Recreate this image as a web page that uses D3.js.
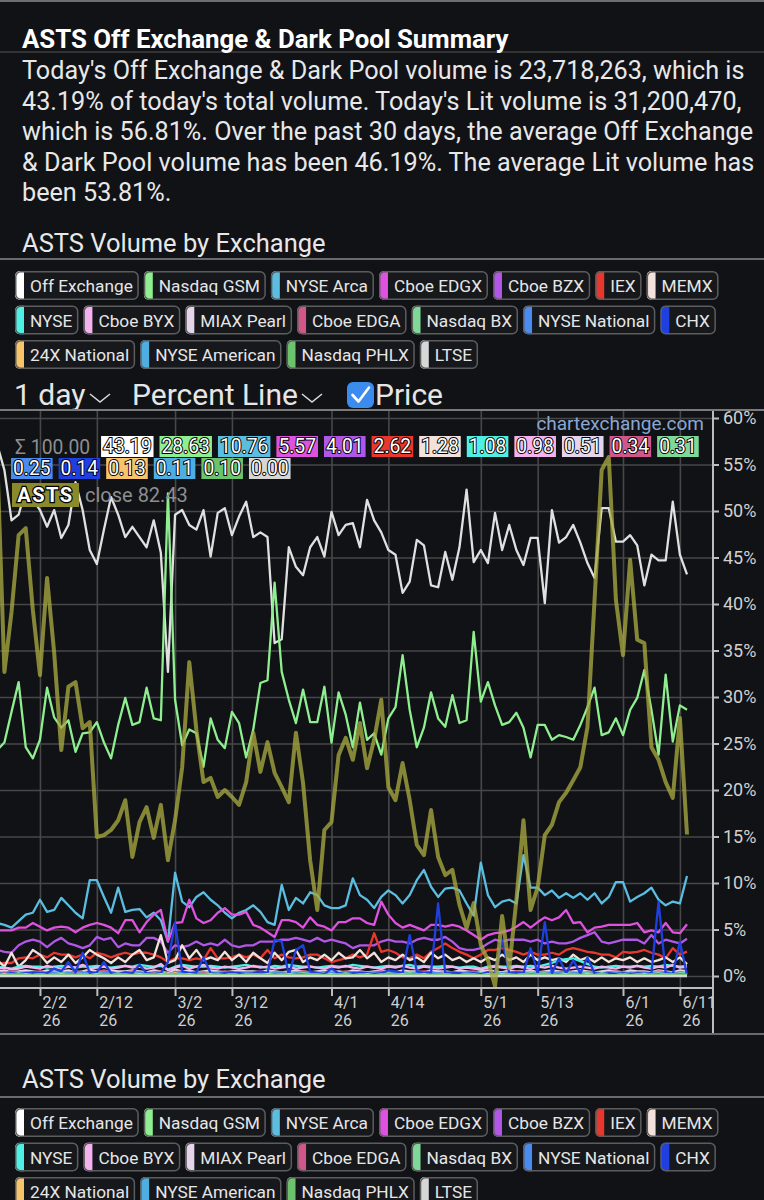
<!DOCTYPE html>
<html>
<head>
<meta charset="utf-8">
<script src="https://d3js.org/d3.v7.min.js"></script>
<style>
  body { margin: 0; background: #101216; }
  svg { display: block; font-family: Roboto, "Noto Sans", sans-serif; }
</style>
</head>
<body>
<svg id="page" width="764" height="1200"></svg>
<script>
// ---- data ----
const title = "ASTS Off Exchange & Dark Pool Summary";
const summaryLines = [
  "Today's Off Exchange & Dark Pool volume is 23,718,263, which is",
  "43.19% of today's total volume. Today's Lit volume is 31,200,470,",
  "which is 56.81%. Over the past 30 days, the average Off Exchange",
  "& Dark Pool volume has been 46.19%. The average Lit volume has",
  "been 53.81%."
];
const sumLabel = "Σ 100.00";

const dates = ("1/23 1/26 1/27 1/28 1/29 1/30 2/2 2/3 2/4 2/5 2/6 2/9 2/10 2/11 2/12 2/13 2/17 2/18 2/19 2/20 " +
  "2/23 2/24 2/25 2/26 2/27 3/2 3/3 3/4 3/5 3/6 3/9 3/10 3/11 3/12 3/13 3/16 3/17 3/18 3/19 3/20 " +
  "3/23 3/24 3/25 3/26 3/27 3/30 3/31 4/1 4/2 4/6 4/7 4/8 4/9 4/10 4/13 4/14 4/15 4/16 4/17 4/20 " +
  "4/21 4/22 4/23 4/24 4/27 4/28 4/29 4/30 5/1 5/4 5/5 5/6 5/7 5/8 5/11 5/12 5/13 5/14 5/15 5/18 " +
  "5/19 5/20 5/21 5/22 5/26 5/27 5/28 5/29 6/1 6/2 6/3 6/4 6/5 6/8 6/9 6/10 6/11 6/12").split(" ");
const tickDates = ["2/2", "2/12", "3/2", "3/12", "4/1", "4/14", "5/1", "5/13", "6/1", "6/11"];
const yearLabel = "26";
const pctTicks = [0, 5, 10, 15, 20, 25, 30, 35, 40, 45, 50, 55, 60];

const exchanges = ["Off Exchange", "Nasdaq GSM", "NYSE Arca", "Cboe EDGX", "Cboe BZX", "IEX", "MEMX",
  "NYSE", "Cboe BYX", "MIAX Pearl", "Cboe EDGA", "Nasdaq BX", "NYSE National", "CHX",
  "24X National", "NYSE American", "Nasdaq PHLX", "LTSE"];
const colors = ["#ffffff", "#8fee8f", "#5bbde0", "#df52df", "#b057e6", "#e8382e", "#f3e1dc",
  "#4ff0e4", "#f4b2ef", "#e6d5ea", "#d1568a", "#7fd898", "#4a8bf0", "#1f3fe0",
  "#f7c46c", "#4eaee2", "#6cc36c", "#d6d6d6"];
const legendRows = [[0, 1, 2, 3, 4, 5, 6], [7, 8, 9, 10, 11, 12, 13], [14, 15, 16, 17]];

const offExchange = [
  57.1, 54.4, 49.0, 49.6, 52.3, 51.2, 50.1, 48.3, 50.1, 47.1,
  48.5, 53.1, 50.1, 45.8, 44.3, 48.0, 51.5, 49.6, 47.2, 48.3,
  47.2, 46.1, 49.0, 45.5, 32.7, 49.6, 50.1, 48.5, 48.0, 50.1,
  45.1, 49.8, 50.3, 47.4, 49.4, 51.0, 47.2, 47.7, 47.2, 35.8,
  36.2, 46.1, 44.0, 43.1, 46.1, 47.2, 45.1, 49.9, 47.4, 48.5,
  48.7, 46.1, 51.2, 49.0, 47.7, 45.8, 45.3, 41.2, 42.4, 46.9,
  46.3, 42.0, 41.8, 45.6, 42.6, 46.1, 52.3, 44.5, 45.8, 44.4,
  49.8, 45.8, 48.5, 45.8, 44.2, 47.1, 47.1, 40.1, 50.1, 46.6,
  47.2, 48.5, 46.6, 44.4, 42.8, 50.3, 50.3, 46.7, 46.7, 47.4,
  46.3, 42.0, 45.3, 44.7, 44.7, 51.0, 45.3, 43.19];
const nasdaqGsm = [
  24.3, 25.1, 28.4, 31.6, 24.6, 23.4, 25.4, 31.0, 27.8, 26.7,
  27.5, 24.1, 26.1, 26.2, 27.3, 25.1, 23.4, 27.0, 29.9, 27.0,
  27.3, 31.0, 27.7, 27.5, 51.9, 29.7, 24.8, 26.5, 26.1, 22.5,
  27.7, 25.4, 24.5, 28.4, 27.2, 23.5, 26.5, 31.5, 31.8, 42.3,
  32.7, 29.7, 27.2, 30.8, 27.3, 27.3, 31.1, 25.1, 30.5, 28.1,
  24.6, 29.4, 25.4, 26.1, 23.8, 27.7, 28.9, 34.5, 28.6, 24.6,
  26.7, 30.5, 27.7, 26.8, 30.2, 27.2, 27.5, 37.0, 29.5, 31.6,
  29.1, 27.0, 27.3, 28.3, 26.7, 23.5, 27.0, 27.0, 25.4, 25.9,
  25.7, 25.4, 27.0, 28.9, 31.0, 25.9, 26.2, 27.7, 25.9, 28.6,
  29.9, 32.9, 28.6, 23.8, 32.4, 25.2, 29.1, 28.63];
const nyseArca = [
  5.7, 5.5, 5.2, 5.9, 6.6, 6.8, 8.2, 6.9, 7.1, 8.4,
  7.6, 6.8, 6.2, 10.3, 10.3, 8.5, 6.8, 9.5, 6.9, 7.1,
  7.2, 6.3, 6.8, 6.0, 3.7, 11.1, 8.0, 7.4, 8.5, 9.0,
  8.2, 7.6, 6.8, 6.2, 6.8, 7.1, 7.6, 6.9, 5.8, 5.5,
  9.8, 7.1, 8.4, 7.8, 9.0, 8.7, 7.6, 7.3, 7.3, 7.6,
  10.5, 8.7, 8.2, 7.3, 8.5, 9.2, 8.7, 7.8, 8.7, 10.3,
  11.4, 9.6, 8.5, 9.4, 9.5, 9.2, 7.8, 6.5, 12.2, 8.7,
  7.4, 8.0, 8.2, 7.8, 13.0, 9.5, 9.5, 8.7, 9.2, 8.4,
  8.9, 8.4, 8.9, 8.2, 8.9, 7.8, 8.5, 10.1, 10.1, 8.0,
  8.5, 8.9, 9.5, 8.2, 7.6, 8.0, 7.8, 10.76];
const cboeEdgx = [
  4.9, 4.9, 4.9, 5.2, 5.2, 5.7, 5.3, 4.9, 5.2, 5.3,
  5.2, 4.7, 5.2, 5.5, 5.7, 5.5, 5.2, 4.6, 6.0, 6.0,
  4.7, 5.8, 6.6, 7.1, 3.7, 5.7, 5.8, 8.2, 6.2, 5.7,
  6.0, 6.8, 7.3, 6.6, 6.6, 6.9, 5.5, 5.2, 4.7, 4.2,
  6.0, 6.0, 5.8, 5.2, 6.3, 5.5, 5.3, 4.9, 5.8, 5.8,
  6.2, 6.2, 5.7, 5.5, 8.0, 6.6, 5.7, 5.2, 5.5, 5.2,
  4.9, 5.5, 5.5, 5.3, 5.5, 5.3, 4.9, 4.4, 3.9, 4.4,
  4.6, 4.7, 4.9, 5.3, 5.8, 5.2, 5.8, 6.3, 6.0, 6.3,
  7.1, 5.7, 5.8, 4.7, 5.2, 5.3, 5.5, 5.5, 5.5, 5.5,
  5.7, 4.7, 4.9, 4.7, 5.7, 4.7, 4.6, 5.57];
const cboeBzx = [
  2.8, 2.6, 2.5, 3.3, 3.7, 3.9, 3.7, 3.1, 3.7, 4.1,
  3.5, 3.3, 3.0, 3.3, 4.2, 3.9, 4.1, 3.1, 3.5, 3.3,
  3.3, 4.1, 4.1, 3.7, 2.5, 3.3, 3.1, 3.3, 3.7, 3.3,
  3.5, 3.3, 3.9, 3.3, 3.1, 3.3, 3.3, 3.7, 3.7, 3.7,
  3.9, 3.9, 4.1, 3.9, 3.7, 4.1, 3.7, 3.9, 3.7, 3.5,
  3.0, 3.3, 3.3, 3.3, 3.7, 3.9, 3.7, 3.7, 3.5, 3.9,
  4.1, 3.9, 3.9, 4.2, 3.7, 3.0, 2.8, 2.8, 3.0, 3.5,
  3.9, 3.7, 3.9, 3.9, 3.9, 3.7, 3.9, 3.5, 3.7, 3.5,
  3.5, 3.7, 4.1, 4.4, 4.7, 3.7, 3.5, 3.7, 3.9, 3.9,
  3.9, 3.5, 4.4, 3.5, 3.9, 3.7, 3.5, 4.01];
const iex = [
  1.3, 1.4, 1.4, 1.9, 2.0, 1.9, 2.3, 2.0, 2.5, 2.3,
  2.3, 2.0, 2.3, 1.9, 2.5, 2.3, 2.0, 2.3, 2.5, 2.3,
  2.5, 2.5, 2.3, 2.0, 1.5, 1.9, 1.9, 1.7, 1.9, 1.7,
  3.0, 1.9, 1.9, 2.0, 2.3, 2.0, 2.3, 1.9, 2.8, 1.9,
  2.3, 2.0, 1.9, 2.0, 2.3, 2.3, 1.9, 1.5, 1.7, 1.9,
  2.3, 2.0, 2.3, 4.6, 2.6, 2.8, 2.5, 2.0, 1.9, 2.3,
  1.9, 2.6, 3.0, 3.5, 3.0, 2.6, 2.3, 1.9, 2.3, 2.8,
  2.8, 3.0, 2.8, 2.6, 2.3, 2.6, 2.3, 2.3, 2.5, 2.3,
  2.8, 3.0, 2.8, 2.6, 2.5, 2.3, 2.3, 2.0, 2.6, 2.5,
  2.6, 2.8, 2.5, 2.3, 1.9, 3.0, 2.3, 2.62];
const memx = [
  1.7, 1.0, 2.5, 1.0, 1.7, 2.8, 2.3, 1.4, 2.0, 1.5,
  2.3, 1.4, 2.0, 2.8, 2.3, 1.9, 1.4, 2.0, 1.5, 2.3,
  2.8, 1.7, 2.0, 4.4, 1.4, 1.7, 3.3, 1.9, 2.8, 1.7,
  2.0, 1.7, 2.6, 1.7, 2.3, 1.5, 2.5, 1.9, 1.4, 2.5,
  1.7, 2.6, 2.8, 1.5, 2.0, 1.7, 2.3, 1.7, 2.5, 1.9,
  2.0, 2.8, 1.9, 2.5, 1.5, 2.0, 1.7, 2.3, 1.7, 2.0,
  1.5, 2.5, 1.9, 2.3, 1.7, 2.0, 1.5, 1.9, 1.5, 2.0,
  1.7, 2.3, 1.7, 2.0, 1.5, 2.3, 1.7, 2.0, 1.7, 1.9,
  1.5, 2.3, 1.7, 2.0, 1.5, 2.0, 1.5, 1.9, 1.7, 2.0,
  1.5, 1.9, 1.5, 1.7, 2.0, 1.5, 2.0, 1.28];
const nyse = [
  1.0, 0.9, 0.8, 1.0, 1.1, 1.0, 1.0, 0.9, 1.0, 1.1,
  1.0, 0.9, 1.0, 1.0, 1.1, 1.0, 0.9, 1.0, 1.1, 1.0,
  1.2, 1.1, 1.0, 1.1, 0.7, 1.0, 1.2, 1.1, 1.0, 1.0,
  1.1, 1.0, 0.9, 1.0, 1.1, 1.2, 1.0, 1.0, 0.9, 1.1,
  1.0, 1.2, 1.1, 1.0, 1.0, 0.9, 1.0, 1.1, 1.0, 1.0,
  1.2, 1.1, 1.0, 0.9, 1.0, 1.1, 1.0, 1.1, 1.2, 1.0,
  1.1, 1.0, 1.0, 1.1, 1.0, 0.9, 1.0, 1.0, 0.8, 1.0,
  1.1, 1.0, 1.0, 1.1, 1.0, 1.1, 1.0, 1.2, 1.4, 1.7,
  1.8, 1.9, 1.6, 1.3, 1.0, 0.9, 1.0, 1.1, 1.0, 1.0,
  1.1, 1.0, 1.1, 1.0, 1.2, 1.1, 1.0, 1.08];
const cboeByx = [
  0.8, 0.9, 0.7, 0.8, 1.0, 0.9, 0.8, 1.1, 0.9, 0.8,
  1.0, 0.9, 1.2, 0.8, 0.9, 1.0, 0.8, 0.9, 1.1, 0.9,
  1.0, 0.8, 0.9, 1.3, 0.6, 0.9, 1.1, 0.8, 1.0, 1.2,
  0.9, 0.8, 1.0, 0.9, 0.8, 0.9, 1.1, 0.9, 1.0, 0.8,
  0.9, 1.0, 0.8, 0.9, 1.0, 0.9, 0.8, 1.0, 0.9, 1.1,
  0.9, 0.8, 1.0, 0.9, 0.8, 1.0, 0.9, 1.1, 0.9, 0.8,
  1.0, 0.9, 0.8, 0.9, 1.0, 0.8, 0.9, 0.8, 0.7, 0.9,
  1.0, 0.9, 0.8, 1.0, 0.9, 0.8, 1.0, 0.9, 1.1, 0.9,
  0.8, 0.9, 1.0, 0.9, 0.8, 1.0, 0.9, 0.8, 1.0, 0.9,
  1.1, 0.9, 0.8, 1.0, 0.9, 1.2, 0.9, 0.98];
const miaxPearl = [
  0.5, 0.6, 0.4, 0.5, 0.6, 0.5, 0.4, 0.6, 0.5, 0.5,
  0.6, 0.4, 0.5, 0.7, 0.5, 0.4, 0.6, 0.5, 0.5, 0.6,
  0.5, 0.4, 0.6, 0.5, 0.3, 0.7, 0.5, 0.6, 0.4, 0.5,
  0.6, 0.5, 0.4, 0.5, 0.6, 0.5, 0.5, 0.4, 0.6, 0.5,
  0.4, 0.5, 0.6, 0.5, 0.4, 0.5, 0.6, 0.5, 0.5, 0.4,
  0.6, 0.5, 0.4, 0.5, 0.6, 0.5, 0.4, 0.6, 0.5, 0.5,
  0.4, 0.6, 0.5, 0.5, 0.4, 0.6, 0.5, 0.4, 0.5, 0.6,
  0.5, 0.4, 0.6, 0.5, 0.5, 0.6, 0.4, 0.5, 0.6, 0.5,
  0.4, 0.5, 0.6, 0.5, 0.4, 0.5, 0.6, 0.5, 0.4, 0.6,
  0.5, 0.5, 0.4, 0.6, 0.5, 0.4, 0.6, 0.51];
const cboeEdga = [
  0.4, 0.3, 0.5, 0.4, 0.3, 0.4, 0.5, 0.3, 0.4, 0.4,
  0.3, 0.5, 0.4, 0.3, 0.4, 0.6, 0.4, 0.3, 0.4, 0.5,
  0.4, 0.3, 0.4, 0.5, 0.2, 0.4, 0.5, 0.3, 0.4, 0.4,
  0.3, 0.4, 0.5, 0.4, 0.3, 0.4, 0.4, 0.5, 0.3, 0.4,
  0.4, 0.3, 0.4, 0.5, 0.4, 0.3, 0.4, 0.4, 0.3, 0.5,
  0.4, 0.3, 0.4, 0.4, 0.5, 0.3, 0.4, 0.4, 0.3, 0.4,
  0.5, 0.4, 0.3, 0.4, 0.4, 0.3, 0.4, 0.5, 0.3, 0.4,
  0.4, 0.3, 0.4, 0.5, 0.4, 0.3, 0.4, 0.4, 0.3, 0.4,
  0.5, 0.4, 0.3, 0.4, 0.4, 0.3, 0.4, 0.5, 0.4, 0.3,
  0.4, 0.4, 0.3, 0.5, 0.4, 0.3, 0.4, 0.34];
const nasdaqBx = [
  0.3, 0.2, 0.3, 0.4, 0.3, 0.3, 0.2, 0.3, 0.4, 0.3,
  0.3, 0.2, 0.3, 0.3, 0.4, 0.3, 0.2, 0.3, 0.3, 0.4,
  0.3, 0.3, 0.2, 0.4, 0.2, 0.3, 0.3, 0.4, 0.3, 0.2,
  0.3, 0.4, 0.3, 0.3, 0.2, 0.3, 0.3, 0.4, 0.3, 0.3,
  0.2, 0.3, 0.4, 0.3, 0.3, 0.2, 0.3, 0.4, 0.3, 0.3,
  0.3, 0.2, 0.4, 0.3, 0.3, 0.3, 0.2, 0.3, 0.4, 0.3,
  0.3, 0.3, 0.2, 0.3, 0.4, 0.3, 0.3, 0.2, 0.3, 0.3,
  0.4, 0.3, 0.2, 0.3, 0.3, 0.4, 0.3, 0.3, 0.2, 0.3,
  0.3, 0.4, 0.3, 0.3, 0.2, 0.3, 0.3, 0.4, 0.3, 0.3,
  0.2, 0.3, 0.3, 0.4, 0.3, 0.2, 0.3, 0.31];
const nyseNational = [
  0.3, 0.2, 0.3, 0.2, 0.3, 0.3, 0.2, 0.4, 0.3, 0.2,
  0.3, 0.2, 0.3, 0.3, 0.2, 0.3, 0.4, 0.2, 0.3, 0.2,
  0.3, 0.3, 0.2, 0.3, 0.1, 0.4, 0.3, 0.2, 0.3, 0.2,
  0.2, 0.3, 0.3, 0.2, 0.4, 0.3, 0.2, 0.3, 0.2, 0.3,
  0.3, 0.2, 0.3, 0.2, 0.3, 0.4, 0.2, 0.3, 0.3, 0.2,
  0.3, 0.2, 0.2, 0.3, 0.3, 0.2, 0.4, 0.3, 0.2, 0.3,
  0.2, 0.3, 0.3, 0.2, 0.3, 0.2, 0.3, 0.4, 0.2, 0.3,
  0.2, 0.3, 0.2, 0.3, 0.3, 0.2, 0.3, 0.2, 0.4, 0.3,
  0.2, 0.3, 0.3, 0.2, 0.3, 0.2, 0.3, 0.3, 0.2, 0.3,
  0.2, 0.3, 0.3, 0.2, 0.4, 0.3, 0.2, 0.25];
const chx = [
  0.3, 0.2, 0.3, 0.2, 0.3, 0.4, 0.3, 0.3, 0.8, 0.5,
  1.5, 0.4, 2.5, 0.3, 0.4, 1.5, 0.3, 0.2, 0.4, 0.3,
  1.2, 0.3, 0.2, 0.3, 1.5, 5.7, 0.5, 0.3, 0.4, 2.0,
  0.3, 0.2, 0.3, 0.4, 0.3, 0.2, 0.3, 0.5, 0.3, 3.9,
  3.7, 0.1, 2.8, 3.3, 0.5, 0.3, 0.2, 0.8, 0.3, 0.2,
  0.3, 0.4, 0.3, 0.2, 0.3, 0.6, 0.5, 0.3, 4.4, 0.5,
  0.3, 0.4, 7.8, 0.3, 0.4, 0.3, 0.2, 0.3, 0.2, 0.4,
  0.3, 3.9, 0.3, 0.4, 0.3, 3.0, 0.3, 5.8, 0.3, 1.9,
  0.3, 1.7, 0.3, 2.0, 0.3, 0.2, 0.3, 0.2, 0.3, 0.2,
  0.3, 0.2, 0.3, 8.0, 0.3, 0.2, 3.7, 0.14];
const x24National = [
  0.1, 0.2, 0.1, 0.1, 0.2, 0.1, 0.2, 0.1, 0.1, 0.2,
  0.1, 0.1, 0.2, 0.1, 0.2, 0.1, 0.1, 0.2, 0.1, 0.1,
  0.2, 0.1, 0.1, 0.2, 0.1, 0.3, 0.1, 0.2, 0.1, 0.1,
  0.2, 0.1, 0.1, 0.2, 0.1, 0.1, 0.2, 0.1, 0.2, 0.1,
  0.1, 0.2, 0.1, 0.1, 0.2, 0.1, 0.1, 0.2, 0.1, 0.2,
  0.1, 0.1, 0.2, 0.1, 0.1, 0.2, 0.1, 0.2, 0.1, 0.1,
  0.2, 0.1, 0.1, 0.2, 0.1, 0.1, 0.2, 0.1, 0.1, 0.2,
  0.1, 0.2, 0.1, 0.1, 0.2, 0.1, 0.1, 0.2, 0.1, 0.1,
  0.2, 0.1, 0.1, 0.2, 0.1, 0.2, 0.1, 0.1, 0.2, 0.1,
  0.1, 0.2, 0.1, 0.1, 0.2, 0.1, 0.1, 0.13];
const nyseAmerican = [
  0.1, 0.1, 0.2, 0.1, 0.1, 0.1, 0.2, 0.1, 0.1, 0.1,
  0.2, 0.1, 0.1, 0.1, 0.1, 0.2, 0.1, 0.1, 0.2, 0.1,
  0.1, 0.1, 0.2, 0.1, 0.1, 0.2, 0.1, 0.1, 0.1, 0.2,
  0.1, 0.1, 0.1, 0.2, 0.1, 0.1, 0.2, 0.1, 0.1, 0.1,
  0.2, 0.1, 0.1, 0.1, 0.2, 0.1, 0.1, 0.1, 0.2, 0.1,
  0.1, 0.2, 0.1, 0.1, 0.1, 0.2, 0.1, 0.1, 0.1, 0.2,
  0.1, 0.1, 0.2, 0.1, 0.1, 0.1, 0.2, 0.1, 0.1, 0.1,
  0.2, 0.1, 0.1, 0.1, 0.2, 0.1, 0.1, 0.2, 0.1, 0.1,
  0.1, 0.2, 0.1, 0.1, 0.1, 0.2, 0.1, 0.1, 0.2, 0.1,
  0.1, 0.1, 0.2, 0.1, 0.1, 0.2, 0.1, 0.11];
const nasdaqPhlx = [
  0.1, 0.1, 0.1, 0.2, 0.1, 0.1, 0.1, 0.1, 0.2, 0.1,
  0.1, 0.1, 0.2, 0.1, 0.1, 0.1, 0.1, 0.2, 0.1, 0.1,
  0.1, 0.2, 0.1, 0.1, 0.1, 0.1, 0.2, 0.1, 0.1, 0.1,
  0.1, 0.2, 0.1, 0.1, 0.1, 0.2, 0.1, 0.1, 0.1, 0.1,
  0.2, 0.1, 0.1, 0.1, 0.1, 0.2, 0.1, 0.1, 0.1, 0.2,
  0.1, 0.1, 0.1, 0.1, 0.2, 0.1, 0.1, 0.1, 0.2, 0.1,
  0.1, 0.1, 0.1, 0.2, 0.1, 0.1, 0.1, 0.2, 0.1, 0.1,
  0.1, 0.1, 0.2, 0.1, 0.1, 0.1, 0.2, 0.1, 0.1, 0.1,
  0.1, 0.2, 0.1, 0.1, 0.1, 0.2, 0.1, 0.1, 0.1, 0.1,
  0.2, 0.1, 0.1, 0.1, 0.2, 0.1, 0.1, 0.10];
const ltse = [
  0, 0, 0, 0, 0, 0, 0, 0, 0, 0,
  0, 0, 0, 0, 0, 0, 0, 0, 0, 0,
  0, 0, 0, 0, 0, 0, 0, 0, 0, 0,
  0, 0, 0, 0, 0, 0, 0, 0, 0, 0,
  0, 0, 0, 0, 0, 0, 0, 0, 0, 0,
  0, 0, 0, 0, 0, 0, 0, 0, 0, 0,
  0, 0, 0, 0, 0, 0, 0, 0, 0, 0,
  0, 0, 0, 0, 0, 0, 0, 0, 0, 0,
  0, 0, 0, 0, 0, 0, 0, 0, 0, 0,
  0, 0, 0, 0, 0, 0, 0, 0];
// ASTS close price, $
const astsClose = [
  163.0, 117.4, 130.3, 146.8, 148.3, 130.7, 116.7, 137.6, 121.5, 100.6,
  114.2, 115.2, 105.3, 106.6, 81.9, 82.3, 83.4, 85.5, 89.8, 77.6,
  85.1, 88.3, 81.7, 88.8, 76.9, 85.5, 96.9, 119.5, 104.9, 93.7,
  94.6, 90.5, 92.0, 90.5, 88.8, 93.7, 104.3, 95.9, 102.3, 95.7,
  92.6, 89.4, 104.3, 93.5, 76.9, 66.2, 83.4, 85.1, 99.5, 103.2,
  98.5, 106.4, 96.7, 102.8, 111.4, 92.6, 89.8, 97.8, 89.8, 80.2,
  78.0, 87.7, 77.6, 73.7, 74.8, 67.3, 62.3, 67.7, 58.7, 55.4,
  49.8, 64.9, 53.7, 68.3, 85.5, 66.2, 71.1, 82.3, 84.5, 89.4,
  91.4, 94.1, 96.9, 105.5, 132.9, 160.8, 163.6, 132.9, 121.0, 141.5,
  124.3, 123.6, 101.2, 98.5, 93.7, 90.3, 107.5, 82.43];

const series = [offExchange, nasdaqGsm, nyseArca, cboeEdgx, cboeBzx, iex, memx, nyse, cboeByx,
  miaxPearl, cboeEdga, nasdaqBx, nyseNational, chx, x24National, nyseAmerican, nasdaqPhlx, ltse];

// ---- page ----
const W = 764;
const svg = d3.select("#page");
svg.append("rect").attr("width", W).attr("height", 1200).attr("fill", "#101216");

function hline(yy, color, width) {
  svg.append("line").attr("x1", 0).attr("x2", W).attr("y1", yy).attr("y2", yy)
    .attr("stroke", color).attr("stroke-width", width);
}

hline(1, "#6e6e6e", 2);
hline(52, "#3f3f3f", 1.5);
svg.append("text").attr("x", 22).attr("y", 48)
  .attr("fill", "#ffffff").attr("font-size", 25.8).attr("font-weight", "bold").text(title);
svg.selectAll("text.summary").data(summaryLines).join("text")
  .attr("class", "summary")
  .attr("x", 22).attr("y", (d, i) => 79 + i * 30.5)
  .attr("fill", "#e8e8e8").attr("font-size", 25.2).text(d => d);

function drawLegend(titleY, lineY, rowTop, key) {
  svg.append("text").attr("x", 22).attr("y", titleY)
    .attr("fill", "#e8e8e8").attr("font-size", 25.5).text("ASTS Volume by Exchange");
  hline(lineY, "#6a6a6a", 2);
  legendRows.forEach((row, r) => {
    let cx = 15;
    row.forEach(i => {
      const g = svg.append("g").attr("transform", `translate(${cx},${rowTop + r * 34.5})`);
      const label = g.append("text").attr("x", 15).attr("y", 21)
        .attr("fill", "#e6e6e6").attr("font-size", 17.3).text(exchanges[i]);
      const w = label.node().getComputedTextLength() + 21;
      const id = `chip-${key}-${i}`;
      g.insert("clipPath", "text").attr("id", id)
        .append("rect").attr("width", w).attr("height", 29).attr("rx", 5);
      const inner = g.insert("g", "text").attr("clip-path", `url(#${id})`);
      inner.append("rect").attr("width", w).attr("height", 29).attr("fill", "#16181c");
      inner.append("rect").attr("width", 9).attr("height", 29).attr("fill", colors[i]);
      g.append("rect").attr("x", 0.75).attr("y", 0.75).attr("width", w - 1.5).attr("height", 27.5)
        .attr("rx", 5).attr("fill", "none").attr("stroke", "#5c5c5c").attr("stroke-width", 1.5);
      cx += w + 5;
    });
  });
}
drawLegend(252, 259, 271, "a");

// controls row
const ctrl = svg.append("g").attr("fill", "#e6e6e6").attr("font-size", 30);
ctrl.append("text").attr("x", 14).attr("y", 405).text("1 day");
ctrl.append("text").attr("x", 132).attr("y", 405).text("Percent Line");
ctrl.append("text").attr("x", 375).attr("y", 405).text("Price");
[[90, 110], [302, 322]].forEach(([a, b]) => {
  svg.append("path").attr("d", `M${a},394 L${(a + b) / 2},402 L${b},394`)
    .attr("fill", "none").attr("stroke", "#d8d8d8").attr("stroke-width", 1.6);
});
svg.append("rect").attr("x", 347).attr("y", 382).attr("width", 27).attr("height", 26).attr("rx", 6)
  .attr("fill", "#3c8cf0");
svg.append("path").attr("d", "M352.5,395 L358.5,401.5 L369,387.5")
  .attr("fill", "none").attr("stroke", "#ffffff").attr("stroke-width", 2.6)
  .attr("stroke-linecap", "round").attr("stroke-linejoin", "round");

// ---- chart ----
const chartTop = 410, plotRight = 713, xAxisY = 988, chartBottom = 1034;
const x = d3.scalePoint().domain(dates).range([-2.7, 687]);
const y = d3.scaleLinear().domain([0, 60]).range([976, 418]);
const yPrice = d3.scaleLinear().domain([52, 172]).range([976, 418]);

const chart = svg.append("g");
chart.append("clipPath").attr("id", "plot")
  .append("rect").attr("x", 0).attr("y", chartTop + 1).attr("width", plotRight).attr("height", xAxisY - chartTop - 1);

chart.append("g")
  .attr("transform", `translate(0,${xAxisY})`)
  .call(d3.axisBottom(x).tickValues(tickDates).tickSize(-(xAxisY - chartTop)).tickFormat(""))
  .call(g => g.select(".domain").remove())
  .selectAll("line").attr("stroke", "#474747").attr("stroke-width", 1.6);
chart.append("g")
  .call(d3.axisRight(y).tickValues(pctTicks).tickSize(plotRight).tickFormat(""))
  .call(g => g.select(".domain").remove())
  .selectAll("line").attr("stroke", "#474747").attr("stroke-width", 1.6);

const plot = chart.append("g").attr("clip-path", "url(#plot)");
const line = d3.line().x((d, i) => x(dates[i])).y(d => y(d));
plot.selectAll("path.ex").data(series).join("path")
  .attr("class", "ex")
  .attr("d", line)
  .attr("fill", "none")
  .attr("stroke", (d, i) => i === 0 ? "#e0e0e0" : colors[i])
  .attr("stroke-width", 2.3)
  .attr("stroke-linejoin", "round");
plot.append("path")
  .datum(astsClose)
  .attr("d", d3.line().x((d, i) => x(dates[i])).y(d => yPrice(d)))
  .attr("fill", "none").attr("stroke", "#a8a840").attr("stroke-opacity", 0.78)
  .attr("stroke-width", 4).attr("stroke-linejoin", "round");

// axes
chart.append("line").attr("x1", 0).attr("x2", plotRight).attr("y1", xAxisY).attr("y2", xAxisY)
  .attr("stroke", "#bdbdbd").attr("stroke-width", 2);
chart.append("line").attr("x1", plotRight).attr("x2", plotRight).attr("y1", chartTop).attr("y2", chartBottom)
  .attr("stroke", "#bdbdbd").attr("stroke-width", 2);

const xAxis = chart.append("g")
  .attr("transform", `translate(0,${xAxisY})`)
  .call(d3.axisBottom(x).tickValues(tickDates).tickSize(8).tickFormat(""))
  .attr("font-family", null).attr("font-size", null);
xAxis.select(".domain").remove();
xAxis.selectAll(".tick line").attr("stroke", "#bdbdbd").attr("stroke-width", 2);
const tickLabel = xAxis.selectAll(".tick").append("text")
  .attr("y", 20).attr("text-anchor", "start")
  .attr("fill", "#cfcfcf").attr("font-size", 16);
tickLabel.append("tspan").attr("x", 2).text(d => d);
tickLabel.append("tspan").attr("x", 2).attr("dy", 18).text(yearLabel);

const yAxis = chart.append("g")
  .attr("transform", `translate(${plotRight},0)`)
  .call(d3.axisRight(y).tickValues(pctTicks).tickSize(6).tickPadding(4).tickFormat(d => d + "%"))
  .attr("font-family", null).attr("font-size", 18).attr("color", "#d0d0d0");
yAxis.select(".domain").remove();
yAxis.selectAll(".tick line").attr("stroke", "#bdbdbd").attr("stroke-width", 2);

hline(chartBottom, "#6a6a6a", 2);
hline(chartTop, "#7a7a7a", 2);

// watermark
svg.append("text").attr("x", 704).attr("y", 430).attr("text-anchor", "end")
  .attr("fill", "#8aa7d3").attr("font-size", 19).text("chartexchange.com");

// latest-value badges
const fmt = d3.format(".2f");
function badge(bx, by, value, color) {
  const t = svg.append("text").attr("x", bx + 2).attr("y", by + 16.5).attr("font-size", 19.3)
    .attr("fill", "#ffffff").attr("stroke", "#000000").attr("stroke-width", 2)
    .attr("paint-order", "stroke").text(fmt(value));
  const w = t.node().getComputedTextLength() + 4;
  svg.insert("rect", () => t.node()).attr("x", bx).attr("y", by).attr("width", w).attr("height", 21)
    .attr("fill", color);
  return bx + w + 6;
}
const sigma = svg.append("text").attr("x", 15).attr("y", 453.5).attr("font-size", 19.3)
  .attr("fill", "#8e8e8e").text(sumLabel);
let bx = 15 + sigma.node().getComputedTextLength() + 11;
series.forEach((s, i) => {
  if (i === 12) bx = 11;
  bx = badge(bx, i < 12 ? 436 : 458, s[s.length - 1], colors[i]);
});

svg.append("rect").attr("x", 12).attr("y", 483).attr("width", 67).attr("height", 24).attr("fill", "#8a8a2c");
svg.append("text").attr("x", 45.5).attr("y", 502).attr("text-anchor", "middle")
  .attr("font-size", 20).attr("font-weight", "bold").attr("letter-spacing", 1.5)
  .attr("fill", "#ffffff").attr("stroke", "#000000").attr("stroke-width", 2.5).attr("paint-order", "stroke")
  .text("ASTS");
svg.append("text").attr("x", 85).attr("y", 502).attr("font-size", 20).attr("fill", "#8e8e8e")
  .text("close " + fmt(astsClose[astsClose.length - 1]));

// second block
drawLegend(1088, 1097, 1108, "b");
</script>
</body>
</html>
